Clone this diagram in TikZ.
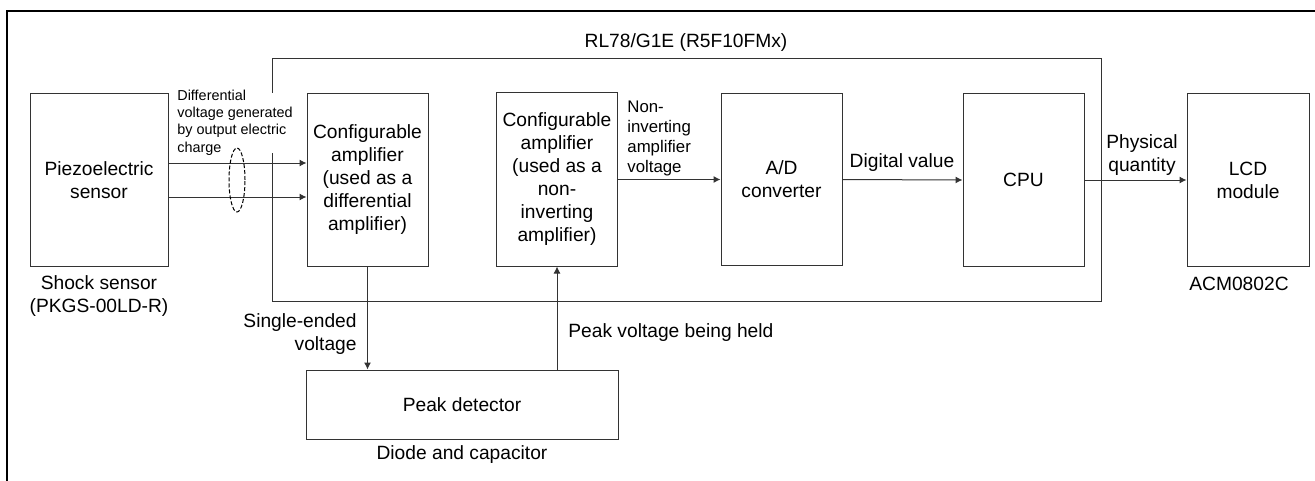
\documentclass[tikz,border=0pt]{standalone}
\usepackage{fontspec}
\setmainfont{Liberation Sans}
\usetikzlibrary{arrows.meta}
\definecolor{linecol}{HTML}{333333}
\tikzset{
  blk/.style={draw=linecol, line width=0.5pt, minimum width=60.5pt, minimum height=86pt,
    align=center, inner sep=0pt, font=\fontsize{9.6}{11.5}\selectfont},
  lbl/.style={inner sep=0pt, font=\fontsize{9.6}{11.5}\selectfont},
  smalllbl/.style={inner sep=0pt, align=left, font=\fontsize{7.2}{8.7}\selectfont},
  arr/.style={draw=linecol, line width=0.5pt, -{Latex[length=3.5pt,width=3.5pt]}},
}
\begin{document}
\begin{tikzpicture}[x=0.5pt, y=-0.5pt]
\useasboundingbox (0,0) rectangle (1315,481);
\draw[line width=1.2pt] (7,481) -- (7,11) -- (1315,11);
\draw[draw=linecol, line width=0.5pt] (272,93) -- (272,59) -- (1101,59) -- (1101,301) -- (272,301) -- (272,153);
\node[lbl] (mcutitle) at (686,43) {RL78/G1E (R5F10FMx)};
\node[blk, minimum width=69pt] (sensor) at (99,180) {Piezoelectric\\sensor};
\node[blk] (amp1) at (367.5,180) {Configurable\\amplifier\\(used as a\\differential\\amplifier)};
\node[blk, minimum height=86.5pt] (amp2) at (557,179.5) {Configurable\\amplifier\\(used as a\\non-\\inverting\\amplifier)};
\node[blk] (adc) at (781.5,179.5) {A/D\\converter};
\node[blk] (cpu) at (1023.5,180) {CPU};
\node[blk, minimum width=61pt] (lcd) at (1248,180) {LCD\\module};
\node[blk, minimum width=156pt, minimum height=34.5pt] (peak) at (462,404.5) {Peak detector};
\draw[arr] ([yshift=8.5pt]sensor.east) -- ([yshift=8.5pt]amp1.west);
\draw[arr] ([yshift=-8.5pt]sensor.east) -- ([yshift=-8.5pt]amp1.west);
\draw[line width=0.5pt, dash pattern=on 2pt off 1pt] (237,180) ellipse [x radius=4pt, y radius=16pt];
\node[smalllbl, anchor=west] (difflbl) at (177,122.5) {Differential\\voltage generated\\by output electric\\charge};
\draw[arr] (amp1.south) -- (amp1.south |- peak.north);
\node[lbl, anchor=east, align=right] (selbl) at (357,334.5) {Single-ended\\voltage};
\draw[arr] (peak.north -| amp2.south) -- (amp2.south);
\node[lbl, anchor=west] (holdlbl) at (568,333) {Peak voltage being held};
\draw[arr] (amp2.east) -- (adc.west);
\node[anchor=west, inner sep=0pt, align=left, font=\fontsize{8.4}{10}\selectfont] (nilbl) at (627,138.5) {Non-\\inverting\\amplifier\\voltage};
\draw[arr] (adc.east) -- (cpu.west);
\node[lbl] (dvlbl) at (902,163) {Digital value};
\draw[arr] (cpu.east) -- (lcd.west);
\node[lbl, align=center] (pqlbl) at (1142,155.5) {Physical\\quantity};
\node[lbl, align=center] (shocklbl) at (99,296) {Shock sensor\\(PKGS-00LD-R)};
\node[lbl] (acmlbl) at (1239,284) {ACM0802C};
\node[lbl] (diodelbl) at (462,455) {Diode and capacitor};
\end{tikzpicture}
\end{document}
